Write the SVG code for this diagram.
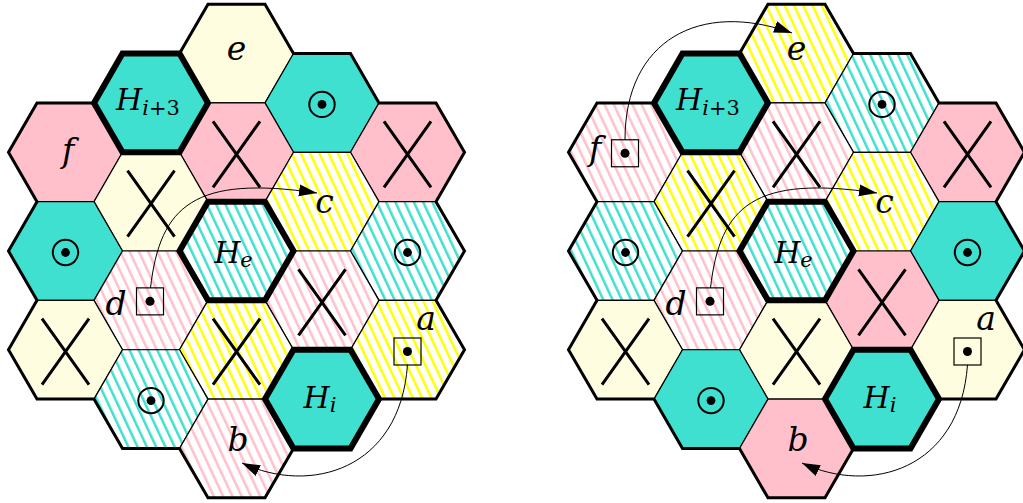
<svg xmlns="http://www.w3.org/2000/svg" width="1023" height="503" viewBox="0 0 1023 503">
<style>
.hx{stroke:#000;stroke-width:1.2;stroke-linejoin:miter}
.ly{fill:#FFFDE0}.pk{fill:#FFC0CB}.tq{fill:#40E0D0}
.hy{fill:url(#pY)}.hp{fill:url(#pP)}.ht{fill:url(#pT)}
.hb{fill:none;stroke:#000;stroke-width:6;stroke-linejoin:miter}
.bd{fill:none;stroke:#000;stroke-width:3;stroke-linejoin:miter}
.xm{fill:none;stroke:#000;stroke-width:3}
.ring{fill:none;stroke:#000;stroke-width:2}
.sq{fill:none;stroke:#000;stroke-width:1.2}
.lbl{font-family:"DejaVu Serif","Liberation Serif",serif;font-style:italic;font-size:33px;text-anchor:middle;fill:#000}
.hl{font-size:30px}
.sub{font-size:21px}
.up{font-style:normal}
.arr{fill:none;stroke:#000;stroke-width:1}
</style>
<defs>
<polygon id="hex" points="57,0 28.5,49.36 -28.5,49.36 -57,0 -28.5,-49.36 28.5,-49.36"/>
<path id="xs" d="M-23.5,-31 L23.5,35 M23.5,-31 L-23.5,35"/>
<g id="dot"><circle r="12.7" cy="1.5" class="ring"/><circle r="4.4" cy="1.5" fill="#000"/></g>
<g id="box"><rect x="-13.5" y="-12.5" width="27" height="27" class="sq"/><circle r="4.5" cy="1" fill="#000"/></g>
<pattern id="pY" patternUnits="userSpaceOnUse" width="8.4" height="10" patternTransform="rotate(-25)"><rect width="8.4" height="10" fill="#fff"/><rect width="2.5" height="10" fill="#FFFF00"/></pattern>
<pattern id="pP" patternUnits="userSpaceOnUse" width="8.4" height="10" patternTransform="rotate(-25)"><rect width="8.4" height="10" fill="#fff"/><rect width="2.5" height="10" fill="#FFC0CB"/></pattern>
<pattern id="pT" patternUnits="userSpaceOnUse" width="8.4" height="10" patternTransform="rotate(-25)"><rect width="8.4" height="10" fill="#fff"/><rect width="2.5" height="10" fill="#40E0D0"/></pattern>
<path id="outline" d="M208,4.18 L265,4.18 L293.5,53.54 L350.5,53.54 L379,102.9 L436,102.9 L464.5,152.27 L436,201.64 L464.5,251 L436,300.37 L464.5,349.73 L436,399.1 L379,399.1 L350.5,448.46 L293.5,448.46 L265,497.82 L208,497.82 L179.5,448.46 L122.5,448.46 L94,399.1 L37,399.1 L8.5,349.73 L37,300.37 L8.5,251 L37,201.64 L8.5,152.27 L37,102.9 L94,102.9 L122.5,53.54 L179.5,53.54 Z"/>
<marker id="ah" markerUnits="userSpaceOnUse" markerWidth="20" markerHeight="14" refX="18" refY="7" orient="auto" viewBox="0 0 20 14"><path d="M0,1 L18,7 L0,13 Z" fill="#000"/></marker>
</defs>

<g id="left-grid">
<g id="L-e"><use href="#hex" x="236.5" y="53.54" class="hx ly"/><text class="lbl" x="236.5" y="60">e</text></g>
<g id="L-dot1"><use href="#hex" x="322" y="102.9" class="hx tq"/><use href="#dot" x="322" y="102.9"/></g>
<g id="L-f"><use href="#hex" x="65.5" y="152.27" class="hx pk"/><text class="lbl" x="68" y="162">f</text></g>
<g id="L-x1"><use href="#hex" x="236.5" y="152.27" class="hx pk"/><use href="#xs" x="236.5" y="152.27" class="xm"/></g>
<g id="L-x2"><use href="#hex" x="407.5" y="152.27" class="hx pk"/><use href="#xs" x="407.5" y="152.27" class="xm"/></g>
<g id="L-x3"><use href="#hex" x="151" y="201.64" class="hx ly"/><use href="#xs" x="151" y="201.64" class="xm"/></g>
<g id="L-c"><use href="#hex" x="322" y="201.64" class="hx hy"/><text class="lbl" x="324.5" y="213">c</text></g>
<g id="L-dot2"><use href="#hex" x="65.5" y="251" class="hx tq"/><use href="#dot" x="65.5" y="251"/></g>
<g id="L-dot3"><use href="#hex" x="407.5" y="251" class="hx ht"/><use href="#dot" x="407.5" y="251"/></g>
<g id="L-d"><use href="#hex" x="151" y="300.37" class="hx hp"/><use href="#box" x="150" y="300.37"/><text class="lbl" x="116" y="315">d</text></g>
<g id="L-x4"><use href="#hex" x="322" y="300.37" class="hx hp"/><use href="#xs" x="322" y="300.37" class="xm"/></g>
<g id="L-x5"><use href="#hex" x="65.5" y="349.73" class="hx ly"/><use href="#xs" x="65.5" y="349.73" class="xm"/></g>
<g id="L-x6"><use href="#hex" x="236.5" y="349.73" class="hx hy"/><use href="#xs" x="236.5" y="349.73" class="xm"/></g>
<g id="L-a"><use href="#hex" x="407.5" y="349.73" class="hx hy"/><use href="#box" x="407.5" y="350.5"/><text class="lbl" x="426" y="330">a</text></g>
<g id="L-dot4"><use href="#hex" x="151" y="399.1" class="hx ht"/><use href="#dot" x="151" y="399.1"/></g>
<g id="L-b"><use href="#hex" x="236.5" y="448.46" class="hx hp"/><text class="lbl" x="238" y="451">b</text></g>
<use href="#outline" class="bd"/>
<g id="L-Hi3"><use href="#hex" x="151" y="102.9" class="hx tq"/><use href="#hex" x="151" y="102.9" class="hb"/><text class="lbl hl" x="148" y="110">H<tspan class="sub" dy="5">i</tspan><tspan class="sub up">+3</tspan></text></g>
<g id="L-He"><use href="#hex" x="236.5" y="251" class="hx ht"/><use href="#hex" x="236.5" y="251" class="hb"/><text class="lbl hl" x="233.5" y="263">H<tspan class="sub" dy="4">e</tspan></text></g>
<g id="L-Hi"><use href="#hex" x="322" y="399.1" class="hx tq"/><use href="#hex" x="322" y="399.1" class="hb"/><text class="lbl hl" x="320" y="408">H<tspan class="sub" dy="4">i</tspan></text></g>
</g>

<g id="right-grid" transform="translate(560,0)">
<g id="R-e"><use href="#hex" x="236.5" y="53.54" class="hx hy"/><text class="lbl" x="236.5" y="60">e</text></g>
<g id="R-dot1"><use href="#hex" x="322" y="102.9" class="hx ht"/><use href="#dot" x="322" y="102.9"/></g>
<g id="R-f"><use href="#hex" x="65.5" y="152.27" class="hx hp"/><use href="#box" x="65" y="152.27"/><text class="lbl" x="35" y="160">f</text></g>
<g id="R-x1"><use href="#hex" x="236.5" y="152.27" class="hx hp"/><use href="#xs" x="236.5" y="152.27" class="xm"/></g>
<g id="R-x2"><use href="#hex" x="407.5" y="152.27" class="hx pk"/><use href="#xs" x="407.5" y="152.27" class="xm"/></g>
<g id="R-x3"><use href="#hex" x="151" y="201.64" class="hx hy"/><use href="#xs" x="151" y="201.64" class="xm"/></g>
<g id="R-c"><use href="#hex" x="322" y="201.64" class="hx hy"/><text class="lbl" x="324.5" y="213">c</text></g>
<g id="R-dot2"><use href="#hex" x="65.5" y="251" class="hx ht"/><use href="#dot" x="65.5" y="251"/></g>
<g id="R-dot3"><use href="#hex" x="407.5" y="251" class="hx tq"/><use href="#dot" x="407.5" y="251"/></g>
<g id="R-d"><use href="#hex" x="151" y="300.37" class="hx hp"/><use href="#box" x="150" y="300.37"/><text class="lbl" x="116" y="315">d</text></g>
<g id="R-x4"><use href="#hex" x="322" y="300.37" class="hx pk"/><use href="#xs" x="322" y="300.37" class="xm"/></g>
<g id="R-x5"><use href="#hex" x="65.5" y="349.73" class="hx ly"/><use href="#xs" x="65.5" y="349.73" class="xm"/></g>
<g id="R-x6"><use href="#hex" x="236.5" y="349.73" class="hx ly"/><use href="#xs" x="236.5" y="349.73" class="xm"/></g>
<g id="R-a"><use href="#hex" x="407.5" y="349.73" class="hx ly"/><use href="#box" x="407.5" y="350.5"/><text class="lbl" x="426" y="330">a</text></g>
<g id="R-dot4"><use href="#hex" x="151" y="399.1" class="hx tq"/><use href="#dot" x="151" y="399.1"/></g>
<g id="R-b"><use href="#hex" x="236.5" y="448.46" class="hx pk"/><text class="lbl" x="238" y="451">b</text></g>
<use href="#outline" class="bd"/>
<g id="R-Hi3"><use href="#hex" x="151" y="102.9" class="hx tq"/><use href="#hex" x="151" y="102.9" class="hb"/><text class="lbl hl" x="148" y="110">H<tspan class="sub" dy="5">i</tspan><tspan class="sub up">+3</tspan></text></g>
<g id="R-He"><use href="#hex" x="236.5" y="251" class="hx ht"/><use href="#hex" x="236.5" y="251" class="hb"/><text class="lbl hl" x="233.5" y="263">H<tspan class="sub" dy="4">e</tspan></text></g>
<g id="R-Hi"><use href="#hex" x="322" y="399.1" class="hx tq"/><use href="#hex" x="322" y="399.1" class="hb"/><text class="lbl hl" x="320" y="408">H<tspan class="sub" dy="4">i</tspan></text></g>
</g>

<g id="connectors">
<path class="arr" d="M150.5,287.9 C160,205 195,175 317,193" marker-end="url(#ah)"/>
<path class="arr" d="M407.5,364.8 C400,470 310,495 242,463" marker-end="url(#ah)"/>
<path class="arr" d="M710.5,287.9 C720,205 755,175 877,193" marker-end="url(#ah)"/>
<path class="arr" d="M967.5,364.8 C960,470 870,495 802,463" marker-end="url(#ah)"/>
<path class="arr" d="M625,139.8 C625,40 700,0 792,33" marker-end="url(#ah)"/>
</g>
</svg>
